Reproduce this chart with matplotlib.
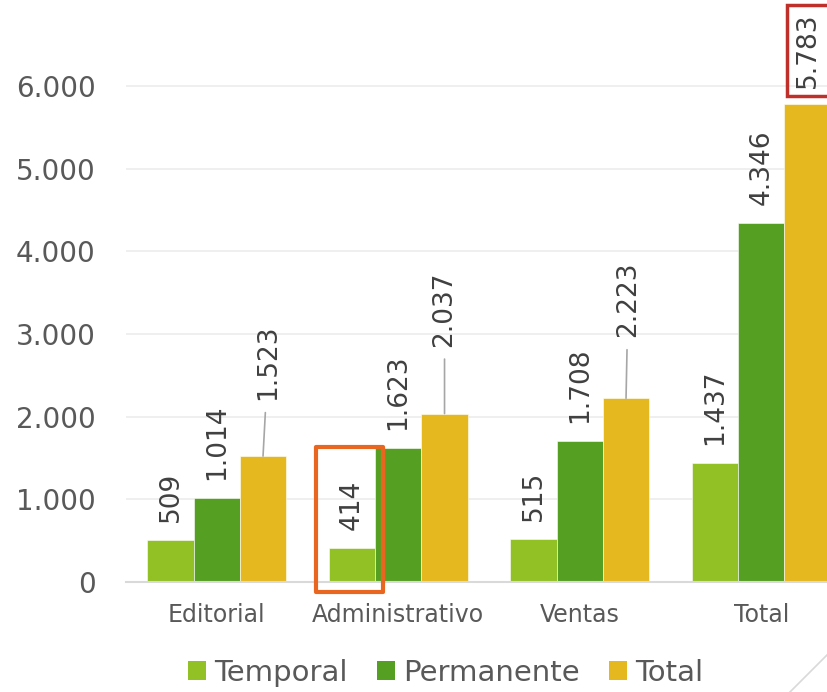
import numpy as np
import matplotlib
matplotlib.use("Agg")
import matplotlib.pyplot as plt
from matplotlib.patches import Patch, Rectangle
from matplotlib.ticker import FuncFormatter
from matplotlib.lines import Line2D

# Data
categories = ["Editorial", "Administrativo", "Ventas", "Total"]
temporal = [509, 414, 515, 1437]
permanente = [1014, 1623, 1708, 4346]
total = [1523, 2037, 2223, 5783]
series_names = ["Temporal", "Permanente", "Total"]

colors = ["#92c125", "#55a022", "#e5b820"]
text_gray = "#595959"
label_gray = "#404040"

plt.rcParams["font.family"] = "DejaVu Sans"


def fmt(v):
    return f"{int(v):,}".replace(",", ".")


fig = plt.figure(figsize=(8.27, 6.92), dpi=100)
# axes cropped on the right like the source picture
ax = fig.add_axes([126 / 827, 1 - 582 / 692, 1 - 126 / 827, 582 / 692])

width = 0.255
offsets = [-width, 0, width]
x = np.arange(len(categories))
all_series = [temporal, permanente, total]

for vals, off, col in zip(all_series, offsets, colors):
    ax.bar(x + off, vals, width=width, color=col, zorder=2,
           edgecolor="white", linewidth=0.4)

ax.set_xlim(-0.5, -0.5 + (827 - 126) / 181.5)
ax.set_ylim(0, 7040)
ax.set_yticks(np.arange(0, 7000, 1000))
ax.yaxis.set_major_formatter(FuncFormatter(lambda v, p: fmt(v)))
ax.set_xticks(x)
ax.set_xticklabels(categories)
ax.tick_params(axis="y", length=0, pad=22, labelsize=20, labelcolor=text_gray)
ax.tick_params(axis="x", length=0, pad=15, labelsize=17, labelcolor=text_gray)
ax.grid(axis="y", color="#ececec", linewidth=1.2, zorder=0)
for s in ["top", "right", "left"]:
    ax.spines[s].set_visible(False)
ax.spines["bottom"].set_color("#d9d9d9")
ax.spines["bottom"].set_linewidth(1.5)

# data labels: (series, category) -> (dx px, dy px) for labels moved with a leader line
moved = {(2, 0): (5, 56), (2, 1): (0, 67), (2, 2): (2, 61)}
for si, (vals, off) in enumerate(zip(all_series, offsets)):
    for ci, v in enumerate(vals):
        bx = x[ci] + off
        dx, dy = moved.get((si, ci), (0, 18))
        kw = {}
        if (si, ci) in moved:
            kw["arrowprops"] = dict(arrowstyle="-", color="#a6a6a6", lw=1.2,
                                    shrinkA=7, shrinkB=0)
        if (si, ci) == (2, 3):
            dy = 16
            kw["bbox"] = dict(boxstyle="square,pad=0.3", fc="none",
                              ec="#c0302a", lw=2.5)
        ax.annotate(fmt(v), xy=(bx, v), xytext=(dx, dy),
                    textcoords="offset pixels", rotation=90,
                    ha="center", va="bottom", fontsize=19,
                    color=label_gray, annotation_clip=False, **kw)

# orange highlight around Administrativo / Temporal
bx = x[1] + offsets[0]
ax.add_patch(Rectangle((bx - width / 2 - 13 / 181.5, -10 * 12.1),
                       width + 21 / 181.5, 145 * 12.1,
                       fill=False, ec="#e8661f", lw=3, clip_on=False,
                       zorder=5, joinstyle="round"))

handles = [Patch(facecolor=c, edgecolor="none") for c in colors]
fig.legend(handles, series_names, loc="center", ncol=3,
           bbox_to_anchor=(446 / 827, 1 - 673 / 692), frameon=False,
           fontsize=21, labelcolor=text_gray, handlelength=0.62,
           handleheight=0.62, handletextpad=0.28, columnspacing=1.0)

# faint corner decoration
fig.add_artist(Line2D([790 / 827, 1.0], [0, 37 / 692], color="#d9d9d9",
                      lw=1.2, transform=fig.transFigure))

fig.savefig("out.png", dpi=100)
